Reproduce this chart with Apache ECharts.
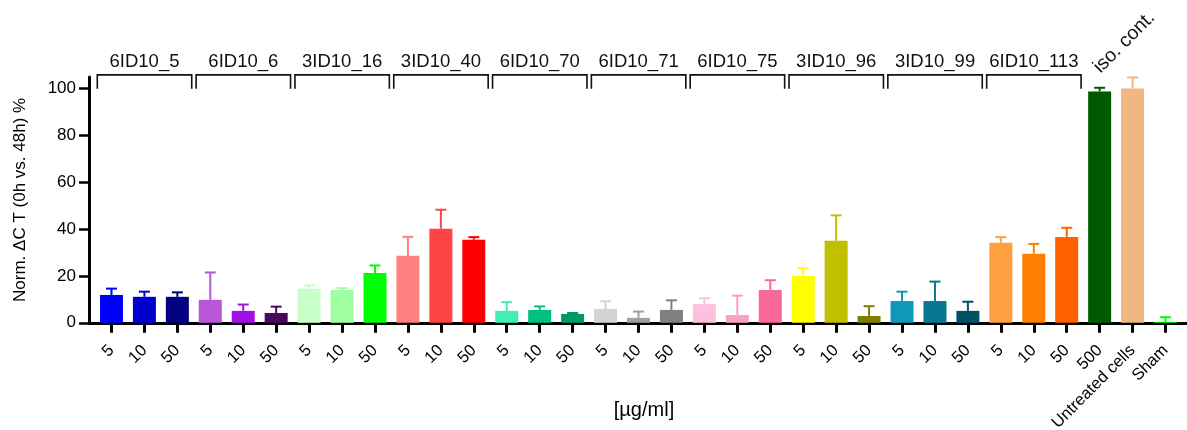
<!DOCTYPE html>
<html>
<head>
<meta charset="utf-8">
<script src="https://cdn.jsdelivr.net/npm/echarts@6/dist/echarts.min.js"></script>
<style>
  html, body { margin: 0; padding: 0; background: #fff; }
  #chart { width: 1187px; height: 430px; }
</style>
</head>
<body>
<div id="chart"></div>
<script>
// Dose (µg/ml) per bar, followed by the control conditions
const doseLabels = [
  '5', '10', '50', '5', '10', '50', '5', '10', '50', '5', '10', '50',
  '5', '10', '50', '5', '10', '50', '5', '10', '50', '5', '10', '50',
  '5', '10', '50', '5', '10', '50', '500', 'Untreated cells', 'Sham'
];
// Antibody groups, three doses each
const groupNames = [
  '6ID10_5', '6ID10_6', '3ID10_16', '3ID10_40', '6ID10_70',
  '6ID10_71', '6ID10_75', '3ID10_96', '3ID10_99', '6ID10_113'
];
const controlLabel = 'iso. cont.';
const controlIndex = 30;

// Mean normalised ΔCT (%) and standard deviation per bar
const meanValues = [
  11.9, 11.1, 11.1, 9.8, 5.1, 4.2, 14.5, 14.0, 21.3, 28.6, 40.2, 35.5,
  5.1, 5.5, 3.8, 5.9, 2.1, 5.5, 8.0, 3.3, 14.0, 20.0, 35.0, 2.9,
  9.3, 9.3, 5.1, 34.2, 29.5, 36.7, 98.8, 100.1, 0.4
];
const sdValues = [
  2.7, 2.2, 1.9, 11.7, 2.7, 2.7, 1.5, 0.8, 3.2, 8.1, 8.1, 1.1,
  3.7, 1.5, 0.4, 3.3, 2.7, 4.1, 2.5, 8.3, 4.2, 3.3, 10.9, 4.2,
  4.0, 8.3, 3.9, 2.4, 4.2, 3.9, 1.6, 4.7, 2.0
];
const barColors = [
  '#0000FF', '#0000CC', '#000080',
  '#B857D8', '#A30FE6', '#48095A',
  '#C8FFC8', '#A0FFA0', '#00FF00',
  '#FF8080', '#FF4444', '#FF0000',
  '#40F0B0', '#00C080', '#009A60',
  '#D3D3D3', '#A0A0A0', '#808080',
  '#FFC0E0', '#F8A0C8', '#F86898',
  '#FFFF00', '#C0C000', '#808000',
  '#1098B8', '#087890', '#005068',
  '#FFA040', '#FF8000', '#FF6000',
  '#005A00', '#F0B880', '#00FF00'
];
const yTicks = [0, 20, 40, 60, 80, 100];

const FONT = '"Liberation Sans", Arial, Helvetica, sans-serif';
const chart = echarts.init(document.getElementById('chart'));

const grid = { top: 77, bottom: 107.2 };

const option = {
  animation: false,
  backgroundColor: '#fff',
  textStyle: { fontFamily: FONT, color: '#000' },
  grid: [
    { left: 89, right: 0, top: grid.top, bottom: grid.bottom, containLabel: false, outerBoundsMode: 'none' },
    { left: 95, right: 5, top: grid.top, bottom: grid.bottom, containLabel: false, outerBoundsMode: 'none' }
  ],
  xAxis: [
    {
      gridIndex: 0, type: 'value', min: 0, max: 1,
      axisLine: { show: true, lineStyle: { color: '#000', width: 3 } },
      axisTick: { show: false }, axisLabel: { show: false }, splitLine: { show: false }
    },
    {
      gridIndex: 1, type: 'category', data: doseLabels,
      axisLine: { show: false },
      axisTick: { show: true, alignWithLabel: true, length: 10, lineStyle: { color: '#000', width: 3 } },
      axisLabel: { rotate: 45, margin: 25, fontSize: 16.5, color: '#000', fontFamily: FONT, interval: 0 },
      name: '[µg/ml]', nameLocation: 'middle', nameGap: 78, nameMoveOverlap: false,
      nameTextStyle: { fontSize: 20, color: '#000', fontFamily: FONT, padding: [0, 0, 0, 11] }
    }
  ],
  yAxis: [
    {
      gridIndex: 0, type: 'value', min: 0, max: 105,
      axisLine: { show: true, lineStyle: { color: '#000', width: 3 } },
      axisTick: { show: true, length: 10, customValues: yTicks, lineStyle: { color: '#000', width: 2.5 } },
      axisLabel: { customValues: yTicks, margin: 13, fontSize: 17, color: '#000', fontFamily: FONT },
      splitLine: { show: false },
      name: 'Norm. ΔC T (0h vs. 48h) %', nameLocation: 'middle', nameGap: 60, nameMoveOverlap: false,
      nameTextStyle: { fontSize: 17, color: '#000', fontFamily: FONT }
    },
    {
      gridIndex: 1, type: 'value', min: 0, max: 105, show: false
    }
  ],
  series: [
    {
      type: 'bar', xAxisIndex: 1, yAxisIndex: 1, barWidth: 23,
      data: meanValues.map((v, i) => ({ value: v, itemStyle: { color: barColors[i] } }))
    },
    {
      // upward SD whiskers with caps
      type: 'custom', xAxisIndex: 1, yAxisIndex: 1, clip: false, z: 3,
      data: meanValues.map((m, i) => [i, m, m + sdValues[i]]),
      renderItem(params, api) {
        const base = api.coord([api.value(0), api.value(1)]);
        const top = api.coord([api.value(0), api.value(2)]);
        const c = barColors[params.dataIndex];
        const half = 5.5;
        return {
          type: 'group',
          children: [
            { type: 'line', shape: { x1: base[0], y1: base[1], x2: top[0], y2: top[1] },
              style: { stroke: c, lineWidth: 2 } },
            { type: 'line', shape: { x1: top[0] - half, y1: top[1], x2: top[0] + half, y2: top[1] },
              style: { stroke: c, lineWidth: 2 } }
          ]
        };
      }
    },
    {
      // group brackets with antibody names
      type: 'custom', xAxisIndex: 1, yAxisIndex: 1, clip: false, z: 4,
      data: groupNames.map((n, g) => [g * 3, g * 3 + 2, n]),
      renderItem(params, api) {
        const band = api.size([1, 0])[0];
        const a = api.coord([api.value(0), 100]);
        const b = api.coord([api.value(1), 105.9]);
        const x1 = a[0] - band / 2 + 2.3;
        const x2 = b[0] + band / 2 - 2.1;
        const yTop = b[1];
        const yEnd = a[1];
        return {
          type: 'group',
          children: [
            { type: 'polyline',
              shape: { points: [[x1, yEnd], [x1, yTop], [x2, yTop], [x2, yEnd]] },
              style: { stroke: '#111', lineWidth: 1.6, fill: null } },
            { type: 'text', x: (x1 + x2) / 2, y: yTop - 13,
              style: { text: groupNames[params.dataIndex], font: '18.5px ' + FONT,
                       fill: '#111', align: 'center', verticalAlign: 'middle' } }
          ]
        };
      }
    },
    {
      // control label above the isotype column
      type: 'custom', xAxisIndex: 1, yAxisIndex: 1, clip: false, z: 4,
      data: [[controlIndex, 105.9]],
      renderItem(params, api) {
        const p = api.coord([api.value(0), api.value(1)]);
        return {
          type: 'text', x: p[0] - 3, y: p[1] - 5, rotation: Math.PI / 4,
          style: { text: controlLabel, font: '19.5px ' + FONT, fill: '#111',
                   align: 'left', verticalAlign: 'middle' }
        };
      }
    }
  ]
};

chart.setOption(option);
</script>
</body>
</html>
